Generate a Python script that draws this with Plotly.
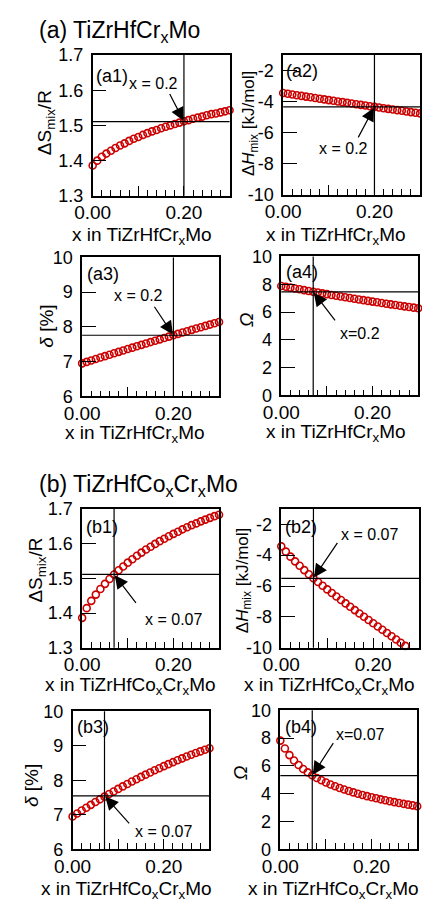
import plotly.graph_objects as go

W, H = 422, 914
FONT = "Liberation Sans, Arial, sans-serif"
RED = "#cc0000"

# ---------------- data ----------------
x_cr = [0.00, 0.01, 0.02, 0.03, 0.04, 0.05, 0.06, 0.07, 0.08, 0.09, 0.10,
        0.11, 0.12, 0.13, 0.14, 0.15, 0.16, 0.17, 0.18, 0.19, 0.20,
        0.21, 0.22, 0.23, 0.24, 0.25, 0.26, 0.27, 0.28, 0.29, 0.30]
x_cocr = list(x_cr)
x_cocr_h = [0.00, 0.01, 0.02, 0.03, 0.04, 0.05, 0.06, 0.07, 0.08, 0.09, 0.10,
            0.11, 0.12, 0.13, 0.14, 0.15, 0.16, 0.17, 0.18, 0.19, 0.20,
            0.21, 0.22, 0.23, 0.24, 0.25, 0.26, 0.27]

# TiZrHfCr_xMo
smix_cr = [1.386, 1.400, 1.411, 1.420, 1.428, 1.436, 1.443, 1.449, 1.456, 1.462, 1.467,
           1.473, 1.478, 1.483, 1.487, 1.492, 1.496, 1.500, 1.504, 1.508, 1.512,
           1.515, 1.519, 1.522, 1.525, 1.529, 1.532, 1.534, 1.537, 1.540, 1.543]
hmix_cr = [-3.450, -3.496, -3.542, -3.587, -3.633, -3.678, -3.723, -3.768, -3.813, -3.857, -3.902,
           -3.946, -3.990, -4.034, -4.078, -4.122, -4.166, -4.209, -4.252, -4.295, -4.338,
           -4.381, -4.423, -4.466, -4.508, -4.550, -4.592, -4.634, -4.675, -4.717, -4.758]
delta_cr = [6.950, 6.992, 7.034, 7.075, 7.117, 7.158, 7.199, 7.240, 7.281, 7.322, 7.363,
            7.403, 7.443, 7.483, 7.523, 7.563, 7.603, 7.642, 7.682, 7.721, 7.760,
            7.799, 7.838, 7.876, 7.915, 7.953, 7.991, 8.029, 8.067, 8.105, 8.143]
omega_cr = [7.880, 7.818, 7.757, 7.697, 7.636, 7.577, 7.518, 7.460, 7.402, 7.345, 7.288,
            7.232, 7.176, 7.121, 7.067, 7.013, 6.960, 6.907, 6.855, 6.803, 6.752,
            6.701, 6.652, 6.602, 6.553, 6.505, 6.457, 6.410, 6.364, 6.317, 6.272]

# TiZrHfCo_xCr_xMo
smix_cocr = [1.386, 1.414, 1.435, 1.453, 1.469, 1.484, 1.498, 1.511, 1.523, 1.534, 1.545,
             1.555, 1.565, 1.574, 1.583, 1.591, 1.599, 1.607, 1.614, 1.621, 1.628,
             1.634, 1.641, 1.647, 1.653, 1.658, 1.664, 1.669, 1.674, 1.679, 1.683]
hmix_cocr = [-3.430, -3.774, -4.097, -4.402, -4.692, -4.969, -5.235, -5.492, -5.741, -5.983, -6.220,
             -6.452, -6.680, -6.905, -7.127, -7.346, -7.563, -7.779, -7.993, -8.206, -8.418,
             -8.629, -8.839, -9.049, -9.258, -9.466, -9.674, -9.882]
delta_cocr = [6.950, 7.036, 7.121, 7.205, 7.287, 7.368, 7.447, 7.525, 7.601, 7.676, 7.750,
              7.822, 7.893, 7.963, 8.031, 8.098, 8.163, 8.227, 8.289, 8.350, 8.410,
              8.468, 8.525, 8.581, 8.635, 8.688, 8.739, 8.789, 8.837, 8.884, 8.930]
omega_cocr = [7.819, 7.251, 6.777, 6.387, 6.059, 5.780, 5.536, 5.323, 5.132, 4.961, 4.805,
              4.663, 4.532, 4.410, 4.297, 4.191, 4.091, 3.996, 3.907, 3.822, 3.742,
              3.665, 3.592, 3.521, 3.454, 3.390, 3.328, 3.268, 3.210, 3.154, 3.100]

# reference lines (horizontal value, vertical composition) and their notes
h_ref = [1.511, -4.34, 7.76, 7.45, 1.511, -5.50, 7.55, 5.30]
v_ref = [0.2, 0.2, 0.2, 0.07, 0.07, 0.07, 0.07, 0.07]
notes = ["x = 0.2", "x = 0.2", "x = 0.2", "x=0.2",
         "x = 0.07", "x = 0.07", "x = 0.07", "x=0.07"]
labels = ["(a1)", "(a2)", "(a3)", "(a4)", "(b1)", "(b2)", "(b3)", "(b4)"]

x_tick_vals = [0.0, 0.1, 0.2, 0.3]
x_tick_text = ["0.00", "", "0.20", ""]

xt_a = "x in TiZrHfCr<sub>x</sub>Mo"
xt_b = "x in TiZrHfCo<sub>x</sub>Cr<sub>x</sub>Mo"
yt_s = "\u0394S<sub>mix</sub>/R"
yt_h = "\u0394<i>H</i><sub>mix</sub> [kJ/mol]"
yt_d = "<i>\u03b4</i> [%]"
yt_o = "<i>\u03a9</i>"

s_ticks = [1.3, 1.4, 1.5, 1.6, 1.7]
s_text = ["1.3", "1.4", "1.5", "1.6", "1.7"]
h_ticks = [-10, -8, -6, -4, -2]
h_text = ["-10", "-8", "-6", "-4", "-2"]
d_ticks = [6, 7, 8, 9, 10]
d_text = ["6", "7", "8", "9", "10"]
o_ticks = [0, 2, 4, 6, 8, 10]
o_text = ["0", "2", "4", "6", "8", "10"]

series = [
    (x_cr, smix_cr), (x_cr, hmix_cr), (x_cr, delta_cr), (x_cr, omega_cr),
    (x_cocr, smix_cocr), (x_cocr_h, hmix_cocr), (x_cocr, delta_cocr), (x_cocr, omega_cocr),
]
y_ranges = [[1.3, 1.7], [-10, -1], [6, 10], [0, 10],
            [1.3, 1.7], [-10, -1], [6, 10], [0, 10]]
y_ticks = [(s_ticks, s_text), (h_ticks, h_text), (d_ticks, d_text), (o_ticks, o_text)] * 2
y_titles = [yt_s, yt_h, yt_d, yt_o] * 2
y_title_size = [19, 17, 19, 19] * 2
x_titles = [xt_a] * 4 + [xt_b] * 4

# ---------------- layout geometry (pixels) ----------------
# plot frames: left, right, top, bottom
boxes = [(78, 221, 46, 190), (277, 420, 46, 189), (67, 210, 253, 395), (275, 418, 252, 394),
         (67, 210, 510, 652), (275, 419, 510, 652), (57, 200, 717, 858), (274, 417, 716, 858)]
ytitle_pos = [(30, 115), (243, 116), (30, 323), (238, 317),
              (20, 573), (236, 583), (14, 793), (233, 780)]
xtitle_pos = [(130, 231), (332, 231), (122, 433), (332, 432),
              (117, 691), (325, 691), (113, 900), (330, 900)]
label_pos = [(98, 67), (297, 62), (89, 270), (297, 268),
             (88, 529), (296, 529), (78, 733), (296, 733)]
note_pos = [(142, 75), (340, 142), (126, 292), (357, 331),
            (162, 623), (367, 536), (152, 840), (358, 741)]
arrow_off = [(-15, -29), (-17, 32), (-20, -30), (23, 30),
             (23, 30), (25, -37), (26, 29), (22, -34)]


def px(xp):
    return xp / W


def py(yp):
    return 1 - yp / H


fig = go.Figure()
layout = dict(
    width=W, height=H, margin=dict(l=0, r=0, t=0, b=0),
    paper_bgcolor="white", plot_bgcolor="white", showlegend=False,
    font=dict(family=FONT, color="black"),
)
annotations = []
shapes = []

for i in range(8):
    n = i + 1
    xs = "" if n == 1 else str(n)
    l, r, t, b = boxes[i]
    xv, yv = series[i]
    fig.add_trace(go.Scatter(
        x=xv, y=yv, mode="markers", xaxis="x" + xs, yaxis="y" + xs,
        cliponaxis=False,
        marker=dict(symbol="circle-open", size=7, color=RED, line=dict(width=1.6)),
    ))
    layout["xaxis" + xs] = dict(
        domain=[px(l), px(r)], anchor="y" + xs, range=[0, 0.3],
        tickmode="array", tickvals=x_tick_vals, ticktext=x_tick_text,
        ticks="inside", ticklen=10, tickwidth=1.2, tickcolor="black",
        ticklabelstandoff=-1,
        minor=dict(ticks="inside", ticklen=6, tickwidth=1.2, tickcolor="black",
                   tickmode="linear", tick0=0, dtick=0.02),
        showline=True, linecolor="black", linewidth=1.5, mirror=True,
        showgrid=False, zeroline=False, fixedrange=True,
        tickfont=dict(size=19, family=FONT, color="black"),
    )
    tv, tt = y_ticks[i]
    layout["yaxis" + xs] = dict(
        domain=[py(b), py(t)], anchor="x" + xs, range=y_ranges[i],
        tickmode="array", tickvals=tv, ticktext=tt,
        ticks="inside", ticklen=14, tickwidth=1.2, tickcolor="black",
        ticklabelstandoff=4,
        showline=True, linecolor="black", linewidth=1.5, mirror=True,
        showgrid=False, zeroline=False, fixedrange=True,
        tickfont=dict(size=18, family=FONT, color="black"),
    )
    # guide lines
    shapes.append(dict(type="line", xref="x" + xs + " domain", yref="y" + xs,
                       x0=0, x1=1, y0=h_ref[i], y1=h_ref[i],
                       line=dict(color="black", width=1.2)))
    shapes.append(dict(type="line", xref="x" + xs, yref="y" + xs + " domain",
                       x0=v_ref[i], x1=v_ref[i], y0=0, y1=1,
                       line=dict(color="black", width=1.2)))
    # axis titles
    yx, yy = ytitle_pos[i]
    annotations.append(dict(text=y_titles[i], x=px(yx), y=py(yy), xref="paper", yref="paper",
                            textangle=-90, showarrow=False, xanchor="center", yanchor="middle",
                            font=dict(size=y_title_size[i], family=FONT, color="black")))
    tx, ty = xtitle_pos[i]
    annotations.append(dict(text=x_titles[i], x=px(tx), y=py(ty), xref="paper", yref="paper",
                            showarrow=False, xanchor="center", yanchor="middle",
                            font=dict(size=19, family=FONT, color="black")))
    # panel tag
    lx, ly = label_pos[i]
    annotations.append(dict(text=labels[i], x=px(lx), y=py(ly), xref="paper", yref="paper",
                            showarrow=False, xanchor="center", yanchor="middle",
                            font=dict(size=18, family=FONT, color="black")))
    # composition note and arrow
    nx, ny = note_pos[i]
    annotations.append(dict(text=notes[i], x=px(nx), y=py(ny), xref="paper", yref="paper",
                            showarrow=False, xanchor="center", yanchor="middle",
                            font=dict(size=16, family=FONT, color="black")))
    ax, ay = arrow_off[i]
    annotations.append(dict(text="", x=v_ref[i], y=h_ref[i], xref="x" + xs, yref="y" + xs,
                            showarrow=True, ax=ax, ay=ay, arrowhead=2, arrowsize=2.2,
                            arrowwidth=1.2, arrowcolor="black", standoff=1))

# section headings
annotations.append(dict(text="(a) TiZrHfCr<sub>x</sub>Mo", x=px(20), y=py(22),
                        xref="paper", yref="paper", showarrow=False,
                        xanchor="left", yanchor="middle",
                        font=dict(size=23, family=FONT, color="black")))
annotations.append(dict(text="(b) TiZrHfCo<sub>x</sub>Cr<sub>x</sub>Mo", x=px(20), y=py(486),
                        xref="paper", yref="paper", showarrow=False,
                        xanchor="left", yanchor="middle",
                        font=dict(size=23, family=FONT, color="black")))

layout["annotations"] = annotations
layout["shapes"] = shapes
fig.update_layout(**layout)
fig.write_html("out.html")
